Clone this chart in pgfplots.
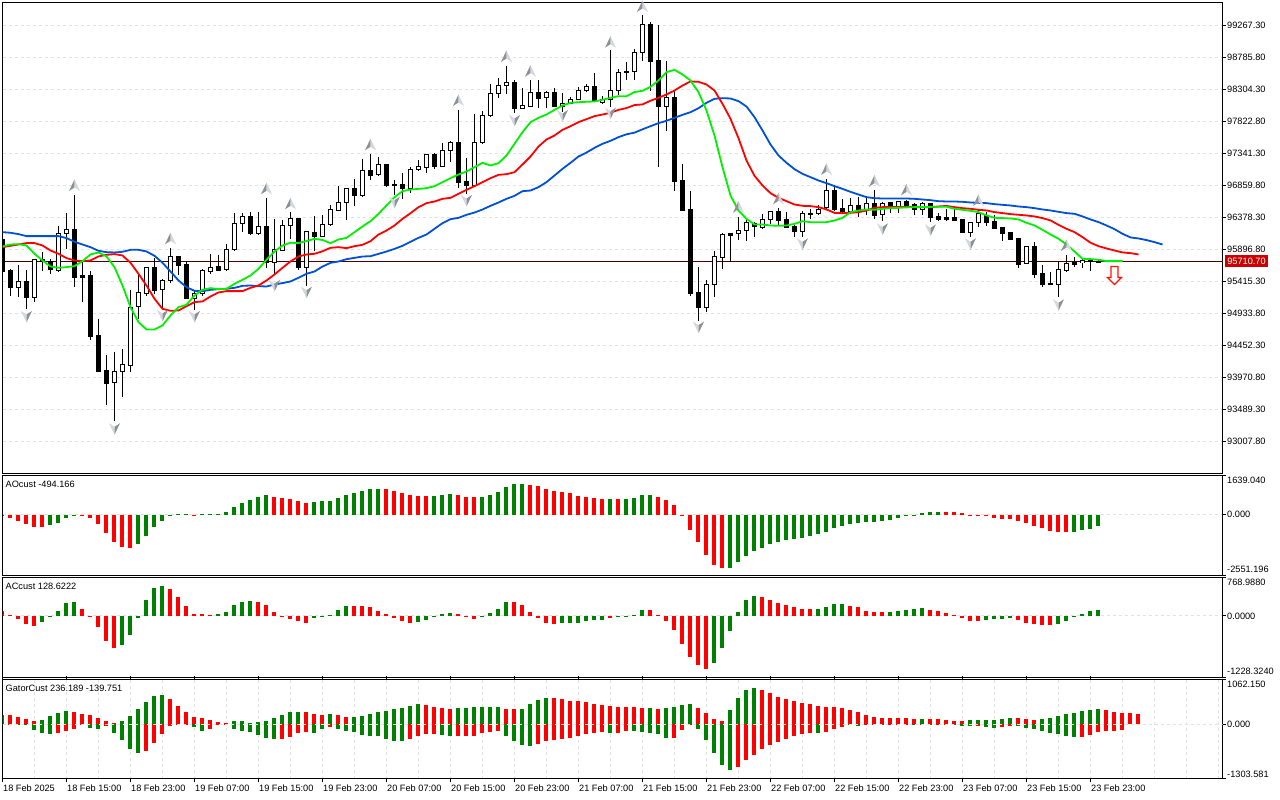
\documentclass[border=0pt]{standalone}
\usepackage{pgfplots}
\usepackage{pgfplotstable}
\usepackage{fontspec}
\pgfplotsset{compat=1.18}
\setmainfont{Liberation Sans}
\newcommand\lab{\fontsize{9.2}{11}\selectfont}
\newcommand\rb[2]{\raisebox{#1pt}[0pt][0pt]{#2}}
\definecolor{gridc}{HTML}{E2E2E2}
\definecolor{hgreen}{HTML}{008000}
\definecolor{hred}{HTML}{FF0000}
\definecolor{lblue}{HTML}{0050D8}
\definecolor{lgreen}{HTML}{00F000}
\definecolor{fdark}{HTML}{8E9096}
\definecolor{flight}{HTML}{D4D6E0}
\pgfdeclareplotmark{fup}{%
 \pgfsetfillcolor{fdark}\pgfpathmoveto{\pgfqpoint{0pt}{6pt}}\pgfpathlineto{\pgfqpoint{-5.5pt}{-5.5pt}}\pgfpathlineto{\pgfqpoint{0pt}{-2pt}}\pgfpathclose\pgfusepathqfill
 \pgfsetfillcolor{flight}\pgfpathmoveto{\pgfqpoint{0pt}{6pt}}\pgfpathlineto{\pgfqpoint{5.5pt}{-5.5pt}}\pgfpathlineto{\pgfqpoint{0pt}{-2pt}}\pgfpathclose\pgfusepathqfill}
\pgfdeclareplotmark{fdn}{%
 \pgfsetfillcolor{flight}\pgfpathmoveto{\pgfqpoint{0pt}{-6pt}}\pgfpathlineto{\pgfqpoint{-5.5pt}{5.5pt}}\pgfpathlineto{\pgfqpoint{0pt}{2pt}}\pgfpathclose\pgfusepathqfill
 \pgfsetfillcolor{fdark}\pgfpathmoveto{\pgfqpoint{0pt}{-6pt}}\pgfpathlineto{\pgfqpoint{5.5pt}{5.5pt}}\pgfpathlineto{\pgfqpoint{0pt}{2pt}}\pgfpathclose\pgfusepathqfill}
\pgfdeclareplotmark{bigdn}{%
 \pgfsetlinewidth{1.2pt}\pgfsetstrokecolor{red!85!orange}\pgfsetfillcolor{white}
 \pgfpathmoveto{\pgfqpoint{-3.5pt}{9pt}}\pgfpathlineto{\pgfqpoint{3.5pt}{9pt}}\pgfpathlineto{\pgfqpoint{3.5pt}{-2pt}}\pgfpathlineto{\pgfqpoint{7pt}{-2pt}}\pgfpathlineto{\pgfqpoint{0pt}{-9pt}}\pgfpathlineto{\pgfqpoint{-7pt}{-2pt}}\pgfpathlineto{\pgfqpoint{-3.5pt}{-2pt}}\pgfpathclose\pgfusepathqfillstroke}
\pgfplotstableread{
i o h l c
2 95320 95666 95190 95411
4 95180 95752 95105 95742
7 95581 96258 95556 96143
8 96143 96449 95907 96193
14 93891 94362 93314 94056
15 94056 94402 93685 94162
16 94157 95290 94061 95019
17 95034 95506 94854 95245
18 95240 95641 95205 95621
20 95290 95456 95019 95426
21 95426 95922 95391 95787
24 95160 95270 94989 95240
25 95240 95606 95190 95576
26 95571 95822 95521 95631
28 95591 95982 95571 95892
29 95892 96444 95882 96283
30 96283 96444 96158 96389
32 96133 96459 96123 96238
34 95707 96359 95531 95892
35 95882 96334 95872 96253
36 96253 96459 96058 96359
38 95631 96173 95355 96163
40 96098 96424 96083 96268
41 96268 96574 96248 96494
42 96484 96860 96469 96599
43 96599 96810 96348 96810
45 96715 97266 96684 97081
47 97021 97296 97000 97171
51 96820 97146 96745 97096
52 97096 97246 97086 97141
53 97136 97327 97046 97322
55 97151 97502 97146 97382
56 97382 97527 97211 97502
59 96865 97938 96850 97502
60 97502 97974 97487 97908
61 97908 98390 97888 98239
62 98239 98480 98174 98360
63 98360 98666 98239 98405
65 98024 98330 98009 98069
66 98054 98455 98049 98254
68 98179 98290 98029 98254
70 98054 98254 97964 98099
71 98099 98189 98089 98159
72 98159 98350 98149 98285
73 98285 98380 98265 98345
75 98104 98214 98079 98159
76 98159 98891 98039 98285
77 98290 98616 98214 98555
79 98570 98916 98455 98856
80 98856 99433 98741 99277
83 98054 98726 97677 98179
88 95029 95440 94953 95365
89 95365 95881 95189 95786
90 95781 96147 95600 96117
92 96132 96393 96047 96177
93 96187 96358 96032 96302
95 96232 96433 96212 96343
96 96343 96483 96283 96463
100 96172 96473 96092 96433
102 96433 96574 96423 96498
103 96524 96960 96508 96779
106 96473 96674 96433 96554
108 96498 96709 96418 96584
110 96418 96609 96323 96594
112 96544 96634 96453 96614
115 96498 96609 96423 96584
121 96153 96309 96093 96298
122 96298 96494 96233 96444
128 95682 95937 95677 95937
132 95376 95722 95180 95591
133 95586 95822 95556 95682
135 95697 95757 95621 95727
}\bulltab
\pgfplotstableread{
i o h l c
0 96048 96048 95571 95571
1 95581 95606 95190 95320
3 95411 95581 94999 95180
5 95742 95857 95581 95712
6 95712 95757 95521 95601
9 96193 96725 95340 95481
10 95501 95742 95105 95481
11 95501 95581 94543 94593
12 94603 94844 94051 94061
13 94076 94317 93550 93886
19 95621 95772 95220 95280
22 95787 95807 95521 95661
23 95666 95732 95155 95165
27 95636 95822 95571 95581
31 96389 96459 96108 96133
33 96238 96675 95621 95707
37 96359 96374 95591 95631
39 96153 96409 95882 96098
44 96810 96960 96559 96715
46 97081 97337 96935 97016
48 97171 97171 96835 96865
49 96875 96945 96725 96865
50 96870 97051 96659 96820
54 97322 97352 97101 97151
57 97502 98004 96820 96910
58 96915 97276 96735 96865
64 98405 98450 97949 98024
67 98254 98455 98024 98174
69 98254 98330 98049 98054
74 98345 98555 98129 98139
78 98570 98716 98440 98555
81 99277 99327 98279 98731
82 98736 99282 97135 98048
84 98179 98289 96774 96925
85 96935 97186 96473 96483
86 96493 96784 95194 95240
87 95245 95641 94828 95029
91 96132 96147 95706 96112
94 96292 96308 96092 96242
97 96463 96524 96273 96333
98 96343 96463 96217 96232
99 96237 96273 96092 96172
101 96438 96508 96358 96428
104 96779 96875 96483 96498
105 96508 96659 96433 96468
107 96554 96694 96393 96473
109 96584 96799 96363 96413
111 96599 96609 96448 96534
113 96614 96634 96534 96559
114 96569 96594 96423 96493
116 96584 96594 96308 96383
117 96388 96453 96323 96348
118 96373 96508 96323 96353
119 96374 96524 96324 96334
120 96349 96359 96143 96153
123 96409 96459 96248 96309
124 96314 96419 96208 96213
125 96228 96233 96023 96143
126 96148 96158 96033 96048
127 96058 96058 95616 95677
129 95937 96003 95466 95526
130 95531 95671 95340 95366
131 95386 95556 95376 95376
134 95702 95792 95641 95671
136 95732 95742 95571 95712
137 95722 95740 95711 95711
}\beartab
\pgfplotsset{
 panel/.style={scale only axis,width=1220pt,xmin=0,xmax=152.5,
  axis line style={black,line width=1pt},
  ytick pos=right,yticklabel pos=right,
  y tick label style={font=\lab,anchor=west,inner sep=0pt,xshift=1.5pt},
  tick align=outside,major tick length=3pt,minor tick length=0pt,
  tick style={black,line width=1pt},
  minor xtick={4,8,...,152},xminorgrids=true,
  minor grid style={color=gridc,line width=1pt,dash pattern=on 3pt off 3pt},
  major grid style={color=gridc,line width=1pt,dash pattern=on 3pt off 3pt},
  ymajorgrids=true,
  clip=true},
 bar/.style={ycomb,line width=4pt,no markers,xshift=-0.5pt},
 nomark/.style={only marks,mark=*,mark size=0pt,mark options={draw=none,fill=none}},
 wick/.style={black,nomark,error bars/.cd,y dir=both,y explicit,error mark=none,error bar style={line width=1pt,black}},
 body/.style={black,nomark,error bars/.cd,y dir=both,y explicit,error mark=none,error bar style={line width=5pt,black}},
 inner/.style={white,nomark,error bars/.cd,y dir=both,y explicit,error mark=none,error bar style={line width=3pt,white}}
}
\begin{document}
\begin{tikzpicture}[x=1pt,y=1pt]
\path[use as bounding box,fill=white] (0,0) rectangle (1280,800);
% MAIN
\begin{axis}[panel,at={(2.5pt,326.5pt)},anchor=south west,height=471pt,
 ymin=92526.2,ymax=99613.4,xtick=\empty,
 ytick={93007.8,93489.3,93970.8,94452.3,94933.8,95415.3,95896.8,96378.3,96859.8,97341.3,97822.8,98304.3,98785.8,99267.3},
 yticklabels={93007.80,93489.30,93970.80,94452.30,94933.80,95415.30,95896.80,96378.30,96859.80,97341.30,97822.80,98304.30,98785.80,99267.30}]
\addplot[color=black!70!red,line width=1pt] coordinates {(0,95710.7)(152.5,95710.7)};
\addplot[wick] table[x=i,y expr=(\thisrow{h}+\thisrow{l})/2,y error expr=(\thisrow{h}-\thisrow{l})/2]{\bulltab};
\addplot[wick] table[x=i,y expr=(\thisrow{h}+\thisrow{l})/2,y error expr=(\thisrow{h}-\thisrow{l})/2]{\beartab};
\addplot[body] table[x=i,y expr=(\thisrow{o}+\thisrow{c})/2,y error expr=abs(\thisrow{o}-\thisrow{c})/2+7.5]{\bulltab};
\addplot[body] table[x=i,y expr=(\thisrow{o}+\thisrow{c})/2,y error expr=abs(\thisrow{o}-\thisrow{c})/2+7.5]{\beartab};
\addplot[inner] table[x=i,y expr=(\thisrow{o}+\thisrow{c})/2,y error expr={max(abs(\thisrow{o}-\thisrow{c})/2-7.5,0)}]{\bulltab};
\addplot[lblue,line width=1.8pt,no markers] coordinates {(0,96158)(1,96148)(2,96128)(3,96098)(5,96098)(7,96098)(8,96068)(9,96013)(10,95972)(11,95932)(12,95877)(13,95857)(14,95852)(15,95862)(16,95892)(17,95892)(18,95867)(19,95802)(20,95697)(21,95566)(22,95431)(23,95330)(24,95275)(25,95270)(26,95290)(27,95300)(28,95305)(29,95320)(30,95350)(31,95355)(32,95345)(33,95340)(34,95370)(35,95391)(36,95416)(37,95471)(38,95531)(39,95566)(40,95640)(41,95696)(42,95716)(43,95751)(44,95771)(45,95791)(46,95796)(47,95831)(48,95866)(49,95906)(50,95952)(51,96012)(52,96072)(53,96122)(54,96208)(55,96293)(56,96353)(57,96373)(58,96418)(59,96453)(60,96498)(61,96554)(62,96604)(63,96659)(64,96704)(65,96774)(66,96784)(67,96835)(68,96910)(69,97010)(70,97110)(71,97201)(72,97296)(73,97356)(74,97426)(75,97487)(76,97532)(77,97587)(78,97630)(79,97655)(80,97705)(81,97752)(82,97798)(83,97833)(84,97878)(85,97923)(86,97963)(87,98023)(88,98104)(89,98164)(90,98174)(91,98169)(92,98129)(93,98048)(94,97888)(95,97687)(96,97477)(97,97311)(98,97201)(99,97105)(100,97035)(101,96985)(102,96935)(103,96895)(104,96850)(105,96809)(106,96764)(107,96724)(108,96684)(109,96669)(110,96664)(111,96664)(112,96664)(113,96664)(114,96659)(115,96649)(116,96639)(117,96624)(118,96619)(119,96619)(120,96614)(121,96604)(122,96599)(123,96594)(124,96579)(125,96569)(126,96559)(127,96544)(128,96534)(129,96519)(130,96499)(131,96484)(132,96464)(133,96444)(134,96434)(135,96394)(136,96349)(137,96309)(138,96258)(139,96203)(140,96133)(141,96078)(142,96063)(143,96038)(144,96008)(145,95972)};
\addplot[red,line width=1.8pt,no markers] coordinates {(0,95932)(1,95952)(2,95972)(3,95993)(4,95993)(5,95957)(6,95882)(7,95832)(8,95767)(9,95732)(10,95722)(11,95732)(12,95792)(13,95817)(14,95827)(15,95807)(16,95697)(17,95531)(18,95355)(19,95155)(20,95004)(21,94974)(22,94979)(23,95044)(24,95105)(25,95115)(26,95190)(27,95250)(28,95270)(29,95270)(30,95270)(31,95320)(32,95355)(33,95431)(34,95521)(35,95621)(36,95717)(37,95792)(38,95822)(39,95832)(40,95870)(41,95922)(42,95932)(43,95917)(44,95947)(45,95967)(46,96022)(47,96122)(48,96182)(49,96258)(50,96358)(51,96443)(52,96534)(53,96594)(54,96619)(55,96659)(56,96674)(57,96734)(58,96794)(59,96850)(60,96910)(61,96970)(62,97020)(63,97030)(64,97060)(65,97176)(66,97296)(67,97446)(68,97552)(69,97612)(70,97697)(71,97752)(72,97813)(73,97858)(74,97903)(75,97928)(76,97953)(77,97998)(78,98025)(79,98070)(80,98080)(81,98135)(82,98179)(83,98229)(84,98289)(85,98364)(86,98425)(87,98420)(88,98379)(89,98289)(90,98088)(91,97863)(92,97572)(93,97236)(94,97005)(95,96860)(96,96744)(97,96674)(98,96624)(99,96574)(100,96554)(101,96549)(102,96534)(103,96499)(104,96448)(105,96443)(106,96448)(107,96458)(108,96483)(109,96524)(110,96534)(111,96534)(112,96534)(113,96539)(114,96539)(115,96534)(116,96534)(117,96544)(118,96552)(119,96534)(120,96519)(121,96509)(122,96494)(123,96484)(124,96459)(125,96444)(126,96429)(127,96419)(128,96409)(129,96394)(130,96369)(131,96334)(132,96268)(133,96208)(134,96158)(135,96083)(136,95998)(137,95947)(138,95912)(139,95882)(140,95852)(141,95842)(142,95822)};
\addplot[lgreen,line width=1.8pt,no markers] coordinates {(0,95942)(1,95972)(2,95977)(3,95957)(4,95832)(5,95732)(6,95641)(7,95621)(8,95631)(9,95646)(10,95722)(11,95822)(12,95852)(13,95792)(14,95631)(15,95355)(16,95029)(17,94804)(18,94693)(19,94693)(20,94754)(21,94904)(22,95029)(23,95065)(24,95205)(25,95290)(26,95315)(27,95300)(28,95305)(29,95381)(30,95441)(31,95506)(32,95606)(33,95742)(34,95867)(35,95957)(36,95998)(37,95993)(38,96023)(39,96058)(40,96040)(41,95992)(42,96047)(43,96072)(44,96157)(45,96243)(46,96323)(47,96433)(48,96559)(49,96684)(50,96774)(51,96799)(52,96809)(53,96819)(54,96850)(55,96910)(56,96970)(57,97025)(58,97070)(59,97135)(60,97201)(61,97161)(62,97196)(63,97311)(64,97487)(65,97662)(66,97813)(67,97878)(68,97928)(69,97998)(70,98063)(71,98103)(72,98113)(73,98119)(74,98124)(75,98149)(76,98179)(77,98204)(78,98204)(79,98265)(80,98285)(81,98345)(82,98440)(83,98565)(84,98600)(85,98530)(86,98440)(87,98264)(88,97988)(89,97612)(90,97135)(91,96709)(92,96483)(93,96358)(94,96273)(95,96273)(96,96258)(97,96253)(98,96258)(99,96283)(100,96323)(101,96308)(102,96308)(103,96308)(104,96333)(105,96373)(106,96458)(107,96483)(108,96499)(109,96494)(110,96509)(111,96519)(112,96524)(113,96530)(114,96534)(115,96534)(116,96538)(117,96540)(118,96540)(119,96509)(120,96494)(121,96479)(122,96459)(123,96409)(124,96374)(125,96369)(126,96364)(127,96349)(128,96299)(129,96258)(130,96193)(131,96123)(132,96058)(133,95972)(134,95867)(135,95757)(136,95752)(137,95742)(138,95722)(139,95722)(140,95722)};
\addplot[only marks,mark=fup] coordinates {(9,96860)(21,96058)(33,96810)(36,96584)(46,97472)(57,98139)(63,98801)(66,98580)(76,99016)(80,99553)(92,96534)(97,96659)(103,97100)(109,96925)(113,96794)(122,96635)(133,95957)};
\addplot[only marks,mark=fdn] coordinates {(3,94889)(14,93199)(20,94904)(24,94889)(34,95355)(38,95255)(49,96609)(58,96634)(64,97838)(70,97913)(76,97948)(87,94728)(100,95982)(110,96207)(116,96192)(121,95983)(132,95065)};
\addplot[only marks,mark=bigdn] coordinates {(139,95505)};
\end{axis}
% AO
\begin{axis}[panel,at={(2.5pt,224.5pt)},anchor=south west,height=100pt,
 ymin=-2551.196,ymax=1639.04,xtick=\empty,ytick={-2551.196,0,1639.04},
 yticklabels={\rb{2.7}{-2551.196},0.000,\rb{-8.3}{1639.040}}]
\addplot[bar,hgreen] coordinates {(0,-70)(6,-428)(7,-342)(8,-128)(9,-29)(17,-1240)(18,-898)(19,-513)(20,-257)(21,-71)(22,43)(23,43)(25,43)(26,43)(27,43)(28,128)(29,299)(30,470)(31,599)(32,727)(33,812)(39,513)(40,556)(41,556)(42,684)(43,812)(44,898)(45,983)(46,1069)(47,1069)(54,770)(55,812)(56,855)(60,727)(61,812)(62,941)(63,1154)(64,1283)(65,1283)(76,641)(78,641)(79,684)(80,812)(81,812)(91,-2223)(92,-1967)(93,-1753)(94,-1539)(95,-1411)(96,-1240)(97,-1154)(98,-1069)(99,-1026)(100,-983)(101,-898)(102,-812)(103,-727)(104,-556)(105,-470)(106,-385)(107,-342)(108,-299)(109,-299)(110,-257)(111,-214)(112,-128)(113,-29)(114,-29)(115,86)(116,128)(117,128)(134,-727)(135,-641)(136,-599)(137,-494.166)};
\addplot[bar,hred] coordinates {(1,-157)(2,-257)(3,-385)(4,-513)(5,-513)(10,-14)(11,-128)(12,-385)(13,-770)(14,-1154)(15,-1368)(16,-1411)(24,-29)(34,727)(35,684)(36,641)(37,556)(38,470)(48,1069)(49,983)(50,898)(51,812)(52,770)(53,770)(57,812)(58,727)(59,727)(66,1240)(67,1197)(68,1069)(69,983)(70,941)(71,898)(72,770)(73,727)(74,684)(75,641)(77,641)(82,727)(83,599)(84,385)(85,-57)(86,-641)(87,-1154)(88,-1710)(89,-2095)(90,-2223)(118,128)(119,128)(120,86)(121,-14)(122,-29)(123,-71)(124,-128)(125,-171)(126,-171)(127,-257)(128,-342)(129,-470)(130,-556)(131,-684)(132,-727)(133,-727)};
\end{axis}
% AC
\begin{axis}[panel,at={(2.5pt,122.5pt)},anchor=south west,height=100pt,
 ymin=-1228.324,ymax=768.988,xtick=\empty,ytick={-1228.324,0,768.988},
 yticklabels={\rb{2.5}{-1228.3240},0.0000,\rb{-8.5}{768.9880}}]
\addplot[bar,hgreen] coordinates {(5,-122)(6,-7)(7,101)(8,264)(9,284)(15,-588)(16,-385)(17,-41)(18,324)(19,568)(20,608)(27,41)(28,81)(29,223)(30,284)(31,304)(39,-41)(40,-7)(41,20)(42,122)(43,203)(52,-122)(53,-81)(54,-3)(55,41)(56,61)(60,-7)(61,61)(62,142)(63,284)(70,-142)(71,-142)(72,-142)(73,-101)(74,-81)(75,-81)(77,-7)(78,-2)(79,20)(80,122)(89,-933)(90,-649)(91,-304)(92,81)(93,324)(94,406)(102,142)(103,183)(104,243)(105,243)(111,81)(112,101)(113,122)(114,142)(115,162)(123,-81)(124,-61)(125,-61)(126,-41)(132,-162)(133,-101)(134,-14)(135,41)(136,101)(137,128.6)};
\addplot[bar,hred] coordinates {(0,101)(1,14)(2,-61)(3,-162)(4,-203)(10,142)(11,-7)(12,-223)(13,-507)(14,-649)(21,548)(22,385)(23,203)(24,41)(25,41)(26,20)(32,284)(33,223)(34,81)(35,-14)(36,-61)(37,-101)(38,-142)(44,203)(45,203)(46,183)(47,101)(48,41)(49,-34)(50,-101)(51,-142)(57,41)(58,-20)(59,-61)(64,284)(65,223)(66,81)(67,-34)(68,-142)(69,-162)(76,-34)(81,122)(82,20)(83,-101)(84,-284)(85,-568)(86,-811)(87,-973)(88,-1055)(95,385)(96,324)(97,264)(98,223)(99,183)(100,142)(101,142)(106,203)(107,183)(108,101)(109,81)(110,81)(116,122)(117,101)(118,61)(119,20)(120,-41)(121,-101)(122,-101)(127,-81)(128,-142)(129,-162)(130,-183)(131,-183)};
\end{axis}
% Gator
\begin{axis}[panel,at={(2.5pt,21pt)},anchor=south west,height=99.5pt,
 ymin=-1303.581,ymax=1062.15,ytick={-1303.581,0,1062.15},
 yticklabels={\rb{1.7}{-1303.581},0.000,\rb{-8.5}{1062.150}},
 xtick={0,8,...,136},
 xticklabels={18 Feb 2025,18 Feb 15:00,18 Feb 23:00,19 Feb 07:00,19 Feb 15:00,19 Feb 23:00,20 Feb 07:00,20 Feb 15:00,20 Feb 23:00,21 Feb 07:00,21 Feb 15:00,21 Feb 23:00,22 Feb 07:00,22 Feb 15:00,22 Feb 23:00,23 Feb 07:00,23 Feb 15:00,23 Feb 23:00},
 x tick label style={font=\lab,anchor=north west,inner xsep=0pt,inner ysep=0pt,yshift=-3pt,xshift=0.5pt}]
\addplot[bar,hgreen] coordinates {(0,214)(5,111)(6,190)(7,261)(8,309)(15,71)(16,190)(17,356)(18,523)(19,665)(20,689)(29,71)(30,71)(31,24)(32,48)(33,71)(34,143)(35,214)(36,285)(37,285)(41,238)(44,166)(45,190)(46,238)(47,285)(48,309)(49,356)(50,380)(51,428)(52,475)(57,380)(58,380)(59,404)(60,404)(61,404)(62,404)(65,356)(66,475)(67,570)(68,634)(81,380)(83,380)(84,404)(85,451)(86,475)(91,333)(92,618)(93,808)(94,855)(115,119)(121,95)(122,95)(123,95)(124,95)(125,119)(126,143)(130,119)(131,143)(132,190)(133,238)(134,261)(135,309)(136,333)(137,356)};
\addplot[bar,hred] coordinates {(1,214)(2,166)(3,119)(4,87)(9,285)(10,238)(11,214)(12,143)(13,71)(14,24)(21,594)(22,428)(23,285)(24,166)(25,143)(26,95)(27,48)(28,24)(38,285)(39,238)(40,214)(42,214)(43,166)(53,451)(54,404)(55,380)(56,356)(63,356)(64,356)(69,618)(70,594)(71,546)(72,546)(73,523)(74,475)(75,451)(76,428)(77,404)(78,404)(79,404)(80,380)(82,356)(87,380)(88,261)(89,119)(90,71)(95,808)(96,737)(97,642)(98,594)(99,546)(100,499)(101,475)(102,428)(103,404)(104,404)(105,380)(106,333)(107,285)(108,214)(109,166)(110,143)(111,143)(112,143)(113,143)(114,119)(116,119)(117,119)(118,95)(119,71)(120,71)(127,143)(128,119)(129,95)(138,333)(139,285)(140,261)(141,261)(142,236.189)};
\addplot[bar,hgreen] coordinates {(0,-8)(2,-24)(3,-24)(4,-150)(5,-214)(6,-238)(11,-95)(12,-119)(14,-214)(15,-380)(16,-594)(17,-689)(24,-71)(25,-166)(29,-119)(30,-166)(31,-190)(32,-261)(33,-333)(34,-341)(39,-214)(40,-119)(42,-119)(43,-166)(44,-190)(45,-261)(46,-285)(47,-285)(48,-356)(49,-404)(50,-404)(55,-261)(56,-285)(63,-285)(64,-404)(65,-499)(66,-523)(76,-214)(79,-166)(80,-198)(81,-214)(82,-238)(83,-333)(87,-119)(88,-380)(89,-689)(90,-974)(91,-1093)(102,-214)(106,-16)(107,-48)(110,-24)(114,-24)(116,-24)(119,-24)(120,-48)(121,-48)(123,-71)(124,-95)(127,-48)(128,-95)(129,-119)(130,-166)(131,-214)(132,-238)(133,-285)(134,-309)};
\addplot[bar,hred] coordinates {(1,-16)(7,-214)(8,-158)(9,-103)(10,-24)(13,-48)(18,-642)(19,-451)(20,-238)(21,-48)(22,-24)(23,-24)(26,-119)(27,-24)(28,-24)(35,-356)(36,-309)(37,-214)(38,-190)(41,-71)(51,-356)(52,-285)(53,-238)(54,-238)(57,-285)(58,-285)(59,-285)(60,-214)(61,-190)(62,-166)(67,-475)(68,-404)(69,-380)(70,-356)(71,-333)(72,-285)(73,-238)(74,-214)(75,-190)(77,-214)(78,-166)(84,-333)(85,-143)(86,-24)(92,-1022)(93,-855)(94,-737)(95,-594)(96,-499)(97,-428)(98,-356)(99,-285)(100,-238)(101,-214)(103,-190)(104,-119)(105,-71)(108,-8)(109,-8)(111,-8)(112,-8)(113,-24)(115,-8)(117,-16)(118,-16)(122,-48)(125,-71)(126,-48)(135,-309)(136,-261)(137,-190)(138,-166)(139,-166)(140,-139.751)};
\draw[gridc,line width=1pt,dash pattern=on 3pt off 3pt] (axis cs:0,0)--(axis cs:152.5,0);
\end{axis}
\node[anchor=west,inner sep=0pt,font=\lab] at (5.5,315.5) {AOcust -494.166};
\node[anchor=west,inner sep=0pt,font=\lab] at (5.5,213.5) {ACcust 128.6222};
\node[anchor=west,inner sep=0pt,font=\lab] at (5.5,111.5) {GatorCust 236.189 -139.751};
\fill[fill=red!80!black] (1225,532.5) rectangle (1268,545);
\node[inner sep=0pt,font=\lab,text=white] at (1246.5,538.6) {95710.70};
\end{tikzpicture}
\end{document}
